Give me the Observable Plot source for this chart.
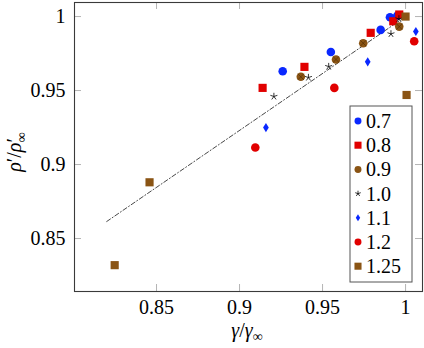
<!DOCTYPE html>
<html>
<head>
<meta charset="utf-8">
<script src="https://cdn.jsdelivr.net/npm/d3@7"></script>
<script src="https://cdn.jsdelivr.net/npm/@observablehq/plot@0.6"></script>
<style>
  html, body { margin: 0; padding: 0; background: #fff; }
  #chart { width: 424px; height: 348px; }
</style>
</head>
<body>
<div id="chart"></div>
<script>
// ---- data ----
const seriesNames = ["0.7", "0.8", "0.9", "1.0", "1.1", "1.2", "1.25"];
const s07x = [0.926, 0.955, 0.985, 0.9906, 0.995];
const s07y = [0.963, 0.976, 0.991, 0.9995, 1.0005];
const s08x = [0.9139, 0.9391, 0.979, 0.9926, 0.9962];
const s08y = [0.9518, 0.966, 0.989, 0.9968, 1.0014];
const s09x = [0.9369, 0.9581, 0.9745, 0.9962];
const s09y = [0.9593, 0.971, 0.982, 0.9932];
const s10x = [0.9207, 0.9415, 0.9537, 0.9912, 0.996];
const s10y = [0.946, 0.9588, 0.9662, 0.9883, 0.9984];
const s11x = [0.9159, 0.9772, 1.0062];
const s11y = [0.925, 0.9694, 0.9899];
const s12x = [0.9095, 0.9571, 1.0052];
const s12y = [0.9115, 0.9518, 0.9833];
const s125x = [0.8248, 0.8458, 1.0006, 1.0];
const s125y = [0.832, 0.888, 0.947, 1.0];
const fitX = [0.82, 1.0];
const fitY = [0.8615, 1.0];
const xTicks = [0.85, 0.9, 0.95, 1];
const yTicks = [0.85, 0.9, 0.95, 1];
const xTickLabels = ["0.85", "0.9", "0.95", "1"];
const yTickLabels = ["0.85", "0.9", "0.95", "1"];

// ---- styles ----
const BLUE = "#0a28ff", RED = "#e10000", BROWN = "#8a5414";
const FONT = "'Liberation Serif', 'DejaVu Serif', serif";

const pts = (xs, ys) => xs.map((x, i) => ({x, y: ys[i]}));

// custom symbols
const star5 = {draw(ctx, size) {
  const r = Math.sqrt(size / Math.PI) * 1.15;
  for (let k = 0; k < 5; k++) {
    const a = -Math.PI / 2 + k * 2 * Math.PI / 5;
    ctx.moveTo(0, 0);
    ctx.lineTo(r * Math.cos(a), r * Math.sin(a));
  }
}};
const diamondTall = {draw(ctx, size) {
  const h = Math.sqrt(size / Math.PI) * 1.15, w = h * 0.62;
  ctx.moveTo(0, -h); ctx.lineTo(w, 0); ctx.lineTo(0, h); ctx.lineTo(-w, 0); ctx.closePath();
}};
const crossHatch = {draw(ctx, size) {
  const r = Math.sqrt(size / Math.PI) * 0.72;
  ctx.moveTo(-r, -r); ctx.lineTo(r, r); ctx.moveTo(-r, r); ctx.lineTo(r, -r);
}};

const W = 424, H = 348, mL = 74, mR = 2, mT = 2, mB = 57;
const fw = W - mL - mR, fh = H - mT - mB, tk = 7;

const plot = Plot.plot({
  width: W, height: H,
  marginLeft: mL, marginRight: mR, marginTop: mT, marginBottom: mB,
  x: {domain: [0.8006, 1.0102]},
  y: {domain: [0.8142, 1.0095]},
  style: {fontFamily: FONT, fontSize: "20px", color: "#000", background: "#fff", overflow: "visible"},
  marks: [
    // inward ticks on all four sides
    Plot.tickX(xTicks, {x: d => d, insetTop: fh - tk, stroke: "#b4b4b4", strokeWidth: 1}),
    Plot.tickX(xTicks, {x: d => d, insetBottom: fh - tk, stroke: "#b4b4b4", strokeWidth: 1}),
    Plot.tickY(yTicks, {y: d => d, insetRight: fw - tk, stroke: "#b4b4b4", strokeWidth: 1}),
    Plot.tickY(yTicks, {y: d => d, insetLeft: fw - tk, stroke: "#b4b4b4", strokeWidth: 1}),
    Plot.axisX(xTicks, {anchor: "bottom", tickSize: 0, tickPadding: 8, label: null,
      tickFormat: d => xTickLabels[xTicks.indexOf(d)], fontSize: 20}),
    Plot.axisY(yTicks, {anchor: "left", tickSize: 0, tickPadding: 9, label: null,
      tickFormat: d => yTickLabels[yTicks.indexOf(d)], fontSize: 20}),
    Plot.frame({stroke: "#3a3a3a", strokeWidth: 1.1}),
    Plot.line(pts(fitX, fitY), {x: "x", y: "y", stroke: "#333", strokeWidth: 0.9, strokeDasharray: "4.5,2.2,1,2.2"}),
    Plot.dot(pts(s07x, s07y), {x: "x", y: "y", symbol: "circle", r: 4.3, fill: BLUE}),
    Plot.dot(pts(s08x, s08y), {x: "x", y: "y", symbol: "square", r: 4.6, fill: RED}),
    Plot.dot(pts(s09x, s09y), {x: "x", y: "y", symbol: "circle", r: 4.3, fill: BROWN}),
    Plot.dot(pts(s09x, s09y), {x: "x", y: "y", symbol: crossHatch, r: 4.3, fill: "none", stroke: "#4a2a05", strokeWidth: 0.6}),
    Plot.dot(pts(s10x, s10y), {x: "x", y: "y", symbol: star5, r: 3.2, fill: "none", stroke: "#000", strokeWidth: 0.8}),
    Plot.dot(pts(s11x, s11y), {x: "x", y: "y", symbol: diamondTall, r: 4, fill: BLUE}),
    Plot.dot(pts(s12x, s12y), {x: "x", y: "y", symbol: "circle", r: 4.3, fill: RED}),
    Plot.dot(pts(s125x, s125y), {x: "x", y: "y", symbol: "square", r: 4.6, fill: BROWN})
  ]
});

document.getElementById("chart").appendChild(plot);

// ---- axis labels and legend ----
const svg = d3.select(plot);

const xl = svg.append("text").attr("x", 247).attr("y", 337).attr("text-anchor", "middle")
  .attr("font-family", FONT).attr("font-size", 20).attr("fill", "#000");
xl.append("tspan").attr("font-style", "italic").text("γ");
xl.append("tspan").text("/");
xl.append("tspan").attr("font-style", "italic").text("γ");
xl.append("tspan").attr("font-size", 14).attr("dy", 4).text("∞");

const yl = svg.append("text").attr("transform", "translate(21,152) rotate(-90)").attr("text-anchor", "middle")
  .attr("font-family", FONT).attr("font-size", 20).attr("fill", "#000");
yl.append("tspan").attr("font-style", "italic").text("ρ");
yl.append("tspan").text("′/");
yl.append("tspan").attr("font-style", "italic").text("ρ");
yl.append("tspan").text("′");
yl.append("tspan").attr("font-size", 14).attr("dy", 5).attr("dx", -4).text("∞");

const lg = svg.append("g");
lg.append("rect").attr("x", 350).attr("y", 106).attr("width", 62).attr("height", 176)
  .attr("fill", "#fff").attr("stroke", "#555").attr("stroke-width", 1);
const legendSyms = [
  {t: d3.symbolCircle, s: 38, fill: BLUE},
  {t: d3.symbolSquare, s: 50, fill: RED},
  {t: d3.symbolCircle, s: 38, fill: BROWN},
  {t: star5, s: 20, fill: "none", stroke: "#000"},
  {t: diamondTall, s: 30, fill: BLUE},
  {t: d3.symbolCircle, s: 38, fill: RED},
  {t: d3.symbolSquare, s: 50, fill: BROWN}
];
seriesNames.forEach((name, i) => {
  const cy = 121 + i * 24.2;
  const sy = legendSyms[i];
  lg.append("path").attr("transform", `translate(358,${cy})`)
    .attr("d", d3.symbol(sy.t, sy.s)())
    .attr("fill", sy.fill).attr("stroke", sy.stroke || "none").attr("stroke-width", 0.8);
  lg.append("text").attr("x", 366).attr("y", cy + 7).attr("text-anchor", "start")
    .attr("font-family", FONT).attr("font-size", 20).attr("fill", "#000").text(name);
});
</script>
</body>
</html>
